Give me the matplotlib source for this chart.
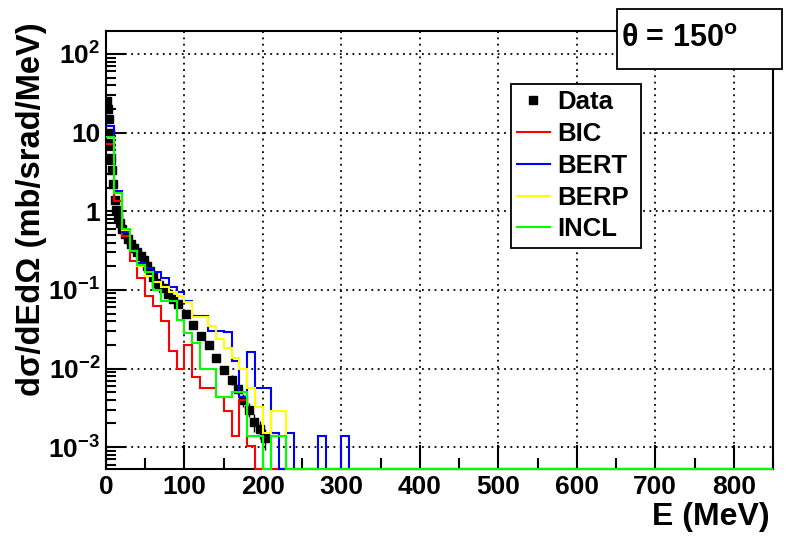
import numpy as np
import matplotlib
matplotlib.use('Agg')
import matplotlib.pyplot as plt
from matplotlib.lines import Line2D
from matplotlib.patches import Rectangle
from matplotlib.ticker import FixedLocator, FixedFormatter, MultipleLocator, LogLocator, NullFormatter

plt.rcParams['font.family'] = ['Liberation Sans', 'DejaVu Sans']
plt.rcParams['font.weight'] = 'bold'
plt.rcParams['axes.labelweight'] = 'bold'
plt.rcParams['mathtext.fontset'] = 'custom'
plt.rcParams['mathtext.rm'] = 'Liberation Sans:bold'
plt.rcParams['mathtext.bf'] = 'Liberation Sans:bold'
plt.rcParams['mathtext.it'] = 'Liberation Sans:bold'
plt.rcParams['mathtext.default'] = 'bf'

# measured points (E in MeV, cross section, relative error)
data_E = [1.5, 2.5, 3.5, 4.5, 5.5, 6.5, 7.5, 9, 11, 13, 15, 18, 21, 24, 28,
          32, 36, 40, 44, 48, 52, 56, 60, 64, 68, 73, 79, 85, 92, 102,
          111, 121, 131, 140, 150, 160, 168, 175, 182, 189, 196, 203]
data_val = [25, 20, 15, 10, 7, 4.8, 3.3, 2.2, 1.4, 1.05, 0.85, 0.7, 0.6, 0.52, 0.44,
            0.38, 0.34, 0.3, 0.27, 0.24, 0.2, 0.173, 0.145, 0.123, 0.115, 0.106, 0.0875, 0.0757, 0.0654, 0.049,
            0.036, 0.026, 0.020, 0.0136, 0.0096, 0.0072, 0.0055, 0.0040, 0.0030, 0.0021, 0.0017, 0.0013]
data_err = [0.06] * 30 + [0.08, 0.1, 0.1, 0.12, 0.12, 0.15, 0.15, 0.18, 0.2, 0.25, 0.25, 0.3]

# model histograms, 10 MeV bins starting at 0 (remaining bins are empty)
bic = [7.1, 1.34, 0.48, 0.23, 0.143, 0.083, 0.062, 0.040, 0.0167, 0.0098, 0.020, 0.0077,
       0.0057, 0.0057, 0.0043, 0.0029, 0.0014, 0.004, 0.00104]
bert = [12.3, 1.83, 0.55, 0.32, 0.22, 0.19, 0.17, 0.14, 0.11, 0.095, 0.072, 0.046, 0.046,
        0.030, 0.030, 0.029, 0.0125, 0.0043, 0.016, 0.0057, 0.0057, 0.0015, 0, 0.0015,
        0, 0, 0, 0.0014, 0, 0, 0.0014]
berp = [8.9, 1.7, 0.57, 0.31, 0.2, 0.15, 0.125, 0.11, 0.095, 0.083, 0.07, 0.045, 0.045,
        0.035, 0.024, 0.018, 0.0137, 0.010, 0.0057, 0.0032, 0.0015, 0.0029, 0.0029]
incl = [8.9, 1.7, 0.59, 0.31, 0.21, 0.17, 0.10, 0.073, 0.073, 0.041, 0.028, 0.021, 0.0098,
        0.0098, 0.0043, 0.0043, 0.005, 0.005, 0.0014, 0.0014, 0, 0.0014, 0.0014]

models = ['BIC', 'BERT', 'BERP', 'INCL']
model_vals = [bic, bert, berp, incl]
model_colors = ['#ff0000', '#0000ff', '#ffff00', '#00ff00']

ytick_vals = [1e-3, 1e-2, 1e-1, 1, 10, 100]
ytick_labels = [r'$10^{-3}$', r'$10^{-2}$', r'$10^{-1}$', '1', '10', r'$10^{2}$']

xmax = 850
bin_width = 10
ymin, ymax = 5.2e-4, 196
edges = np.arange(0, xmax + bin_width, bin_width)
nbins = len(edges) - 1

fig = plt.figure(figsize=(7.9, 5.37), dpi=100)
ax = fig.add_axes([0.1342, 0.1257, 0.8443, 0.8166])

ax.errorbar(data_E, data_val, yerr=np.array(data_val) * np.array(data_err),
            fmt='s', color='black', ms=6, elinewidth=1, capsize=0, zorder=3)

for vals, col in zip(model_vals, model_colors):
    v = np.zeros(nbins)
    v[:len(vals)] = vals
    v = np.where(v > 0, v, ymin)  # empty bins sit on the frame like in ROOT
    ax.stairs(v, edges, baseline=None, color=col, lw=1.5, zorder=4, clip_on=False)

ax.set_xlim(0, xmax)
ax.set_yscale('log')
ax.set_ylim(ymin, ymax)
ax.xaxis.set_major_locator(MultipleLocator(100))
ax.xaxis.set_minor_locator(MultipleLocator(50))
ax.yaxis.set_major_locator(FixedLocator(ytick_vals))
ax.yaxis.set_major_formatter(FixedFormatter(ytick_labels))
ax.yaxis.set_minor_locator(LogLocator(base=10, subs=range(2, 10), numticks=20))
ax.yaxis.set_minor_formatter(NullFormatter())

ax.tick_params(which='both', direction='in', top=False, right=False, width=1.5, color='black')
ax.tick_params(axis='x', which='major', length=17, labelsize=19, pad=4)
ax.tick_params(axis='x', which='minor', length=8)
ax.tick_params(axis='y', which='major', length=14.4, labelsize=19, pad=4)
ax.tick_params(axis='y', which='minor', length=7.2)
for s in ax.spines.values():
    s.set_linewidth(1.5)

ax.grid(True, which='major', color='black', linestyle=(0, (1, 2.5)), linewidth=1.3)
ax.set_axisbelow(True)

ax.set_xlabel('E (MeV)', fontsize=23, fontweight='bold', loc='right')
ax.xaxis.set_label_coords(0.9955, -0.075)
ax.set_ylabel('dσ/dEdΩ (mb/srad/MeV)', fontsize=23.5, fontweight='bold', loc='top')
ax.yaxis.set_label_coords(-0.088, 1.02)

handles = [Line2D([], [], marker='s', color='black', ls='none', ms=6)]
handles += [Line2D([], [], color=c, lw=1.5) for c in model_colors]
leg = ax.legend(handles, ['Data'] + models, loc='upper left',
                bbox_to_anchor=(511 / 790, 1 - 84 / 537 - 0.01, 130 / 790, 0.01),
                bbox_transform=fig.transFigure, mode='expand', borderaxespad=0,
                frameon=True, fancybox=False, framealpha=1, edgecolor='black',
                prop={'family': 'Liberation Sans', 'weight': 'bold', 'size': 18.5},
                handlelength=1.25, handletextpad=0.3, borderpad=0.25, labelspacing=0.3)
leg.get_frame().set_linewidth(1.3)

fig.add_artist(Rectangle((616.7 / 790, 1 - 69 / 537), 165 / 790, 60 / 537,
                         transform=fig.transFigure, facecolor='white',
                         edgecolor='black', lw=1.3, zorder=5))
fig.text(621 / 790, 1 - 39 / 537, r'θ = 150$^{o}$', fontsize=22, ha='left', va='center', zorder=6)

fig.savefig('out.png', dpi=100)
